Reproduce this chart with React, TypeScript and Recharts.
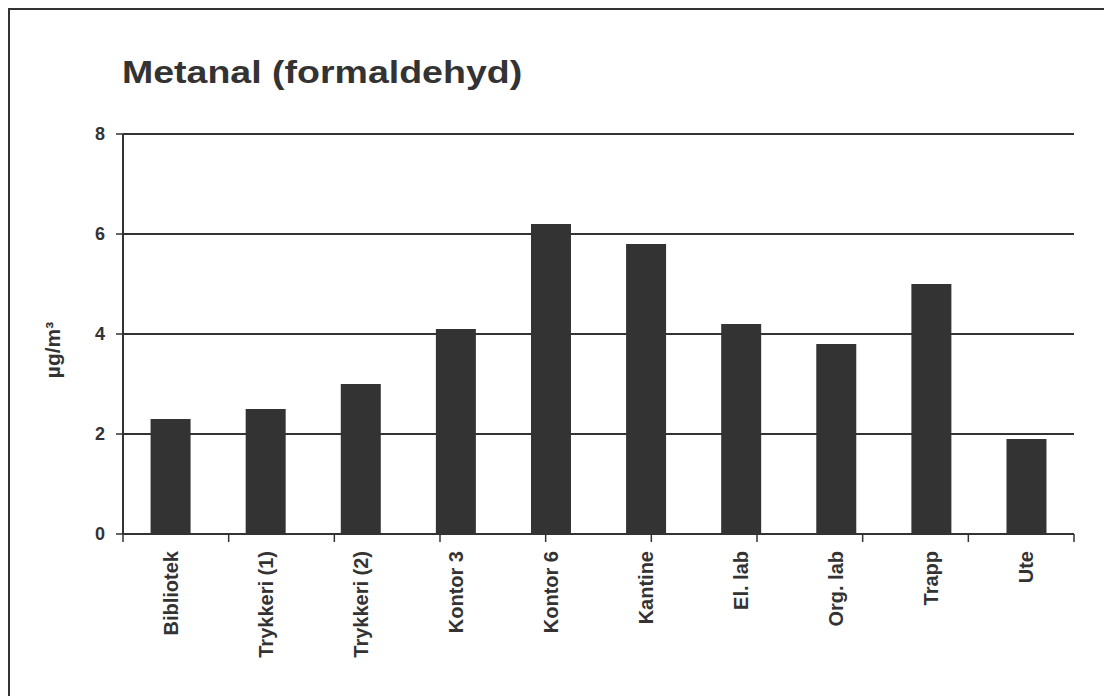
import { BarChart, Bar, XAxis, YAxis, CartesianGrid } from "recharts";

const rooms = [
  "Bibliotek",
  "Trykkeri (1)",
  "Trykkeri (2)",
  "Kontor 3",
  "Kontor 6",
  "Kantine",
  "El. lab",
  "Org. lab",
  "Trapp",
  "Ute",
];
const metanal = [2.3, 2.5, 3.0, 4.1, 6.2, 5.8, 4.2, 3.8, 5.0, 1.9];
const yTicks = [0, 2, 4, 6, 8];

const data = rooms.map((room, i) => ({ room, value: metanal[i] }));
// boundaries between categories, used for the small tick marks under the axis
const edgeTicks = [...rooms.map((_, i) => i), rooms.length];

const INK = "#333333";
const FONT = '"Liberation Sans", Arial, Helvetica, sans-serif';

function RoomTick({ x, y, payload }: any) {
  return (
    <text
      x={x}
      y={y}
      transform={`rotate(-90, ${x}, ${y})`}
      textAnchor="end"
      dy="0.35em"
      fontFamily={FONT}
      fontWeight="bold"
      fontSize={20}
      fill={INK}
    >
      {payload.value}
    </text>
  );
}

function ValueTick({ x, y, payload }: any) {
  return (
    <text
      x={x}
      y={y}
      textAnchor="end"
      dy="0.36em"
      fontFamily={FONT}
      fontWeight="bold"
      fontSize={18}
      fill={INK}
    >
      {payload.value}
    </text>
  );
}

function UnitLabel({ viewBox }: any) {
  const cx = viewBox.x + 53;
  const cy = viewBox.y + viewBox.height / 2 + 16;
  return (
    <text
      x={cx}
      y={cy}
      transform={`rotate(-90, ${cx}, ${cy})`}
      textAnchor="middle"
      dy="0.35em"
      fontFamily={FONT}
      fontWeight="bold"
      fontSize={21}
      fill={INK}
    >
      µg/m³
    </text>
  );
}

export default function App() {
  return (
    <div
      style={{
        position: "absolute",
        left: 0,
        top: 0,
        width: 1104,
        height: 696,
        overflow: "hidden",
        background: "#fff",
      }}
    >
      {/* frame: only left and top edges fall inside the picture */}
      <div
        style={{
          position: "absolute",
          left: 8,
          top: 8,
          width: 1200,
          height: 800,
          borderLeft: `2px solid ${INK}`,
          borderTop: `2px solid ${INK}`,
        }}
      />
      <div
        style={{
          position: "absolute",
          left: 122,
          top: 57,
          fontFamily: FONT,
          fontWeight: "bold",
          fontSize: 31,
          lineHeight: "31px",
          color: INK,
          whiteSpace: "nowrap",
          transform: "scaleX(1.21)",
          transformOrigin: "left top",
        }}
      >
        Metanal (formaldehyd)
      </div>
      <div style={{ position: "absolute", left: 0, top: 0 }}>
        <BarChart
          width={1104}
          height={696}
          data={data}
          margin={{ top: 134, right: 30, bottom: 12, left: 0 }}
          barCategoryGap="29%"
        >
          <CartesianGrid
            xAxisId={0}
            yAxisId={0}
            vertical={false}
            stroke={INK}
            strokeWidth={2}
          />
          <XAxis
            xAxisId={0}
            type="number"
            domain={[0, rooms.length]}
            ticks={edgeTicks}
            allowDataOverflow
            tick={() => <g />}
            tickSize={8}
            height={1}
            axisLine={{ stroke: INK, strokeWidth: 2 }}
            tickLine={{ stroke: INK, strokeWidth: 1.5 }}
          />
          <XAxis
            xAxisId={1}
            dataKey="room"
            interval={0}
            height={149}
            axisLine={false}
            tickLine={false}
            tickSize={8}
            tickMargin={8}
            tick={<RoomTick />}
          />
          <YAxis
            yAxisId={0}
            domain={[0, 8]}
            ticks={yTicks}
            width={123}
            tickSize={7}
            tickMargin={11}
            axisLine={{ stroke: INK, strokeWidth: 2 }}
            tickLine={{ stroke: INK, strokeWidth: 1.5 }}
            tick={<ValueTick />}
            label={(props: any) => <UnitLabel {...props} />}
          />
          <YAxis
            yAxisId="r"
            orientation="right"
            domain={[0, 8]}
            width={0}
            tick={false}
            tickLine={false}
            axisLine={{ stroke: INK, strokeWidth: 2 }}
          />
          <Bar
            xAxisId={1}
            yAxisId={0}
            dataKey="value"
            fill={INK}
            isAnimationActive={false}
          />
        </BarChart>
      </div>
    </div>
  );
}
